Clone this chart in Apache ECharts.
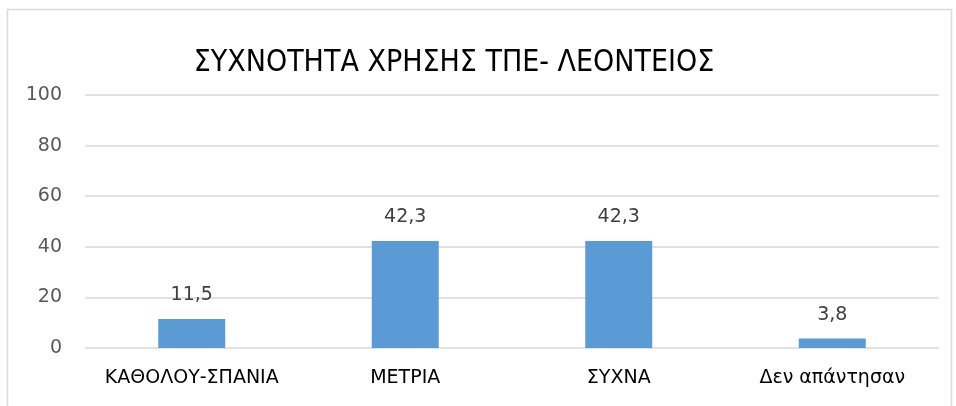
<!DOCTYPE html>
<html>
<head>
<meta charset="utf-8">
<script src="https://cdn.jsdelivr.net/npm/echarts@6/dist/echarts.min.js"></script>
<style>
  html, body { margin: 0; padding: 0; background: #fff; }
  #chart { width: 956px; height: 406px; }
</style>
</head>
<body>
<div id="chart"></div>
<script>
const categories = ['ΚΑΘΟΛΟΥ-ΣΠΑΝΙΑ', 'ΜΕΤΡΙΑ', 'ΣΥΧΝΑ', 'Δεν απάντησαν']
const values = [11.5, 42.3, 42.3, 3.8]
const titleText = 'ΣΥΧΝΟΤΗΤΑ ΧΡΗΣΗΣ ΤΠΕ- ΛΕΟΝΤΕΙΟΣ'

const chart = echarts.init(document.getElementById('chart'))

chart.setOption({
  animation: false,
  backgroundColor: '#fff',
  textStyle: { fontFamily: '"DejaVu Sans", sans-serif' },
  graphic: [{
    type: 'rect', silent: true,
    shape: { x: 7.5, y: 9.5, width: 944, height: 410 },
    style: { fill: 'none', stroke: '#d9d9d9', lineWidth: 1.5 },
  }],
  title: {
    text: titleText,
    left: 449, top: 43, textAlign: 'center',
    textStyle: { fontFamily: '"DejaVu Sans Condensed", "DejaVu Sans", sans-serif', fontWeight: 'normal', fontSize: 30, color: '#000' },
  },
  grid: { left: 85, right: 17, top: 95, bottom: 58 },
  xAxis: {
    type: 'category',
    data: categories,
    axisLine: { show: false }, axisTick: { show: false },
    axisLabel: { color: '#000', fontSize: 19, margin: 21, interval: 0 },
  },
  yAxis: {
    type: 'value', min: 0, max: 100, interval: 20,
    axisLine: { show: false }, axisTick: { show: false },
    axisLabel: { color: '#595959', fontSize: 19, margin: 23 },
    splitLine: { lineStyle: { color: '#d9d9d9', width: 1.5 } },
  },
  series: [{
    type: 'bar',
    data: values,
    barWidth: 67,
    itemStyle: { color: '#5b9bd5' },
    label: {
      show: true, position: 'top', distance: 14,
      color: '#404040', fontSize: 19,
      formatter: (p) => String(p.value).replace('.', ','),
    },
  }],
})
</script>
</body>
</html>
